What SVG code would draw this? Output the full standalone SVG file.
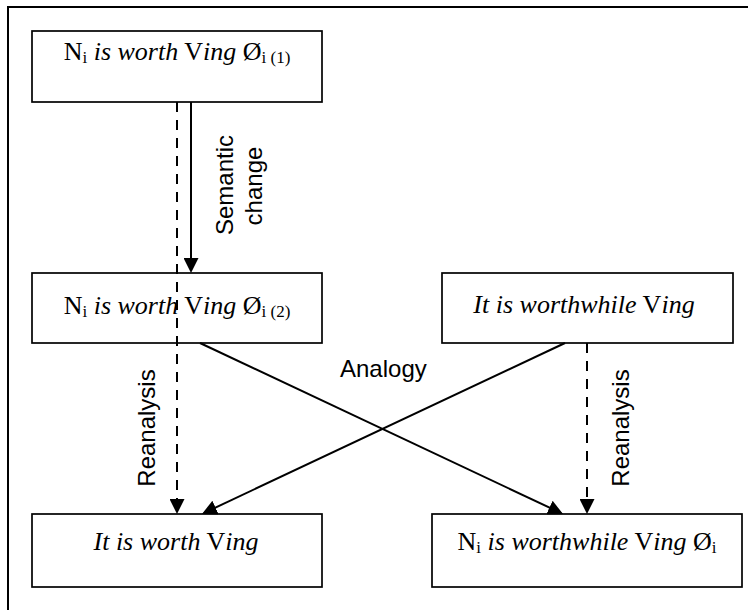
<svg xmlns="http://www.w3.org/2000/svg" width="748" height="610" viewBox="0 0 748 610">
<style>
.box{fill:#fff;stroke:#000;stroke-width:1.7}
.t{font-family:"Liberation Serif","Times New Roman",serif;font-size:26px;fill:#000}
.it{font-style:italic}
.sub{font-size:17px}
.ln{stroke:#000;stroke-width:2;fill:none}
.dash{stroke-dasharray:10 8}
.lab{font-family:"Liberation Sans",Arial,sans-serif;font-size:24px;fill:#000}
</style>
<defs>
<marker id="ah" viewBox="0 0 15 15" refX="13" refY="7.5" markerWidth="15" markerHeight="15" markerUnits="userSpaceOnUse" orient="auto">
<path d="M0,0 L15,7.5 L0,15 Z" fill="#000"/>
</marker>
</defs>
<rect width="748" height="610" fill="#fff"/>
<g id="frame">
<path d="M8,610 L8,7 L748,7" class="ln"/>
</g>
<g id="n1">
<rect class="box" x="32" y="31" width="290" height="71"/>
<text class="t" x="177" y="60" text-anchor="middle">N<tspan class="sub" dy="3">i</tspan><tspan dy="-3"> </tspan><tspan class="it">is worth</tspan> V<tspan class="it">ing</tspan> Ø<tspan class="sub" dy="3">i (1)</tspan></text>
</g>
<g id="n2">
<rect class="box" x="32" y="273" width="290" height="70"/>
<text class="t" x="177" y="314" text-anchor="middle">N<tspan class="sub" dy="3">i</tspan><tspan dy="-3"> </tspan><tspan class="it">is worth</tspan> V<tspan class="it">ing</tspan> Ø<tspan class="sub" dy="3">i (2)</tspan></text>
</g>
<g id="n3">
<rect class="box" x="442" y="273" width="291" height="70"/>
<text class="t" x="584" y="313" text-anchor="middle"><tspan class="it">It is worthwhile</tspan> V<tspan class="it">ing</tspan></text>
</g>
<g id="n4">
<rect class="box" x="32" y="514" width="290" height="73"/>
<text class="t" x="176" y="550" text-anchor="middle"><tspan class="it">It is worth</tspan> V<tspan class="it">ing</tspan></text>
</g>
<g id="n5">
<rect class="box" x="432" y="514" width="310" height="73"/>
<text class="t" x="587" y="550" text-anchor="middle">N<tspan class="sub" dy="3">i</tspan><tspan dy="-3"> </tspan><tspan class="it">is worthwhile</tspan> V<tspan class="it">ing</tspan> Ø<tspan class="sub" dy="3">i</tspan></text>
</g>
<g id="connectors">
<line class="ln" x1="191" y1="102" x2="191" y2="271" marker-end="url(#ah)"/>
<line class="ln dash" x1="177" y1="102" x2="177" y2="512" marker-end="url(#ah)"/>
<line class="ln dash" x1="587" y1="343" x2="587" y2="512" marker-end="url(#ah)"/>
<line class="ln" x1="200" y1="343" x2="561.2" y2="513.1" marker-end="url(#ah)"/>
<line class="ln" x1="565" y1="343" x2="203.8" y2="513.1" marker-end="url(#ah)"/>
<text class="lab" transform="translate(233,185) rotate(-90)" text-anchor="middle">Semantic</text>
<text class="lab" transform="translate(262,186) rotate(-90)" text-anchor="middle">change</text>
<text class="lab" x="340" y="377">Analogy</text>
<text class="lab" transform="translate(155,428) rotate(-90)" text-anchor="middle">Reanalysis</text>
<text class="lab" transform="translate(629,428) rotate(-90)" text-anchor="middle">Reanalysis</text>
</g>
</svg>
